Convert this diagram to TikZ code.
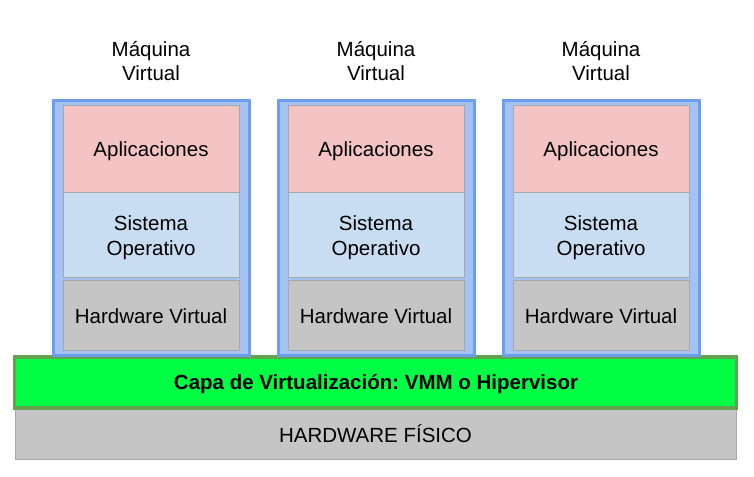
\documentclass[tikz,border=0pt]{standalone}
\usepackage{fontspec}
\setmainfont{Liberation Sans}
\frenchspacing
\definecolor{vmfill}{HTML}{A4C2F4}
\definecolor{vmedge}{HTML}{6D9EEB}
\definecolor{appfill}{HTML}{F4C4C4}
\definecolor{osfill}{HTML}{C8DDF1}
\definecolor{hwfill}{HTML}{C5C5C5}
\definecolor{hwedge}{HTML}{A9A9A9}
\definecolor{greenfill}{HTML}{00FF44}
\definecolor{greenedge}{HTML}{63A34F}
\begin{document}
\begin{tikzpicture}[x=1pt,y=-1pt,
  txt/.style={font=\fontsize{20.5}{24.5}\selectfont, align=center, text=black},
  vmframe/.style={draw=vmedge, fill=vmfill, line width=3pt},
  layer/.style={draw=hwedge, line width=1pt},
]
\useasboundingbox (0,0) rectangle (754,476);
% physical hardware
\draw[layer, fill=hwfill] (15,408) rectangle (736,459);
\node[txt] (hwf) at (375.5,433.5) {HARDWARE FÍSICO};
% virtualization layer
\draw[draw=greenedge, fill=greenfill, line width=3.5pt] (14.5,357) rectangle (736.5,408);
\node[txt, font=\fontsize{20.5}{24.5}\selectfont\bfseries] (vmm) at (376,384.5) {Capa de Virtualización: VMM o Hipervisor};
% virtual machines
\foreach \i/\x in {1/53,2/278,3/503}{
  \draw[vmframe] (\x,100.5) rectangle ({\x+196},355.5);
  \draw[layer, fill=appfill] ({\x+10},106) rectangle ({\x+186},192);
  \draw[layer, fill=osfill] ({\x+10},192) rectangle ({\x+186},277);
  \draw[layer, fill=hwfill] ({\x+10},280) rectangle ({\x+186},350);
  \node[txt] (title\i) at ({\x+98},61) {Máquina\\Virtual};
  \node[txt] (app\i) at ({\x+98},151.5) {Aplicaciones};
  \node[txt] (os\i) at ({\x+98},237.5) {Sistema\\Operativo};
  \node[txt] (hwv\i) at ({\x+98},316.5) {Hardware Virtual};
}
\end{tikzpicture}
\end{document}
